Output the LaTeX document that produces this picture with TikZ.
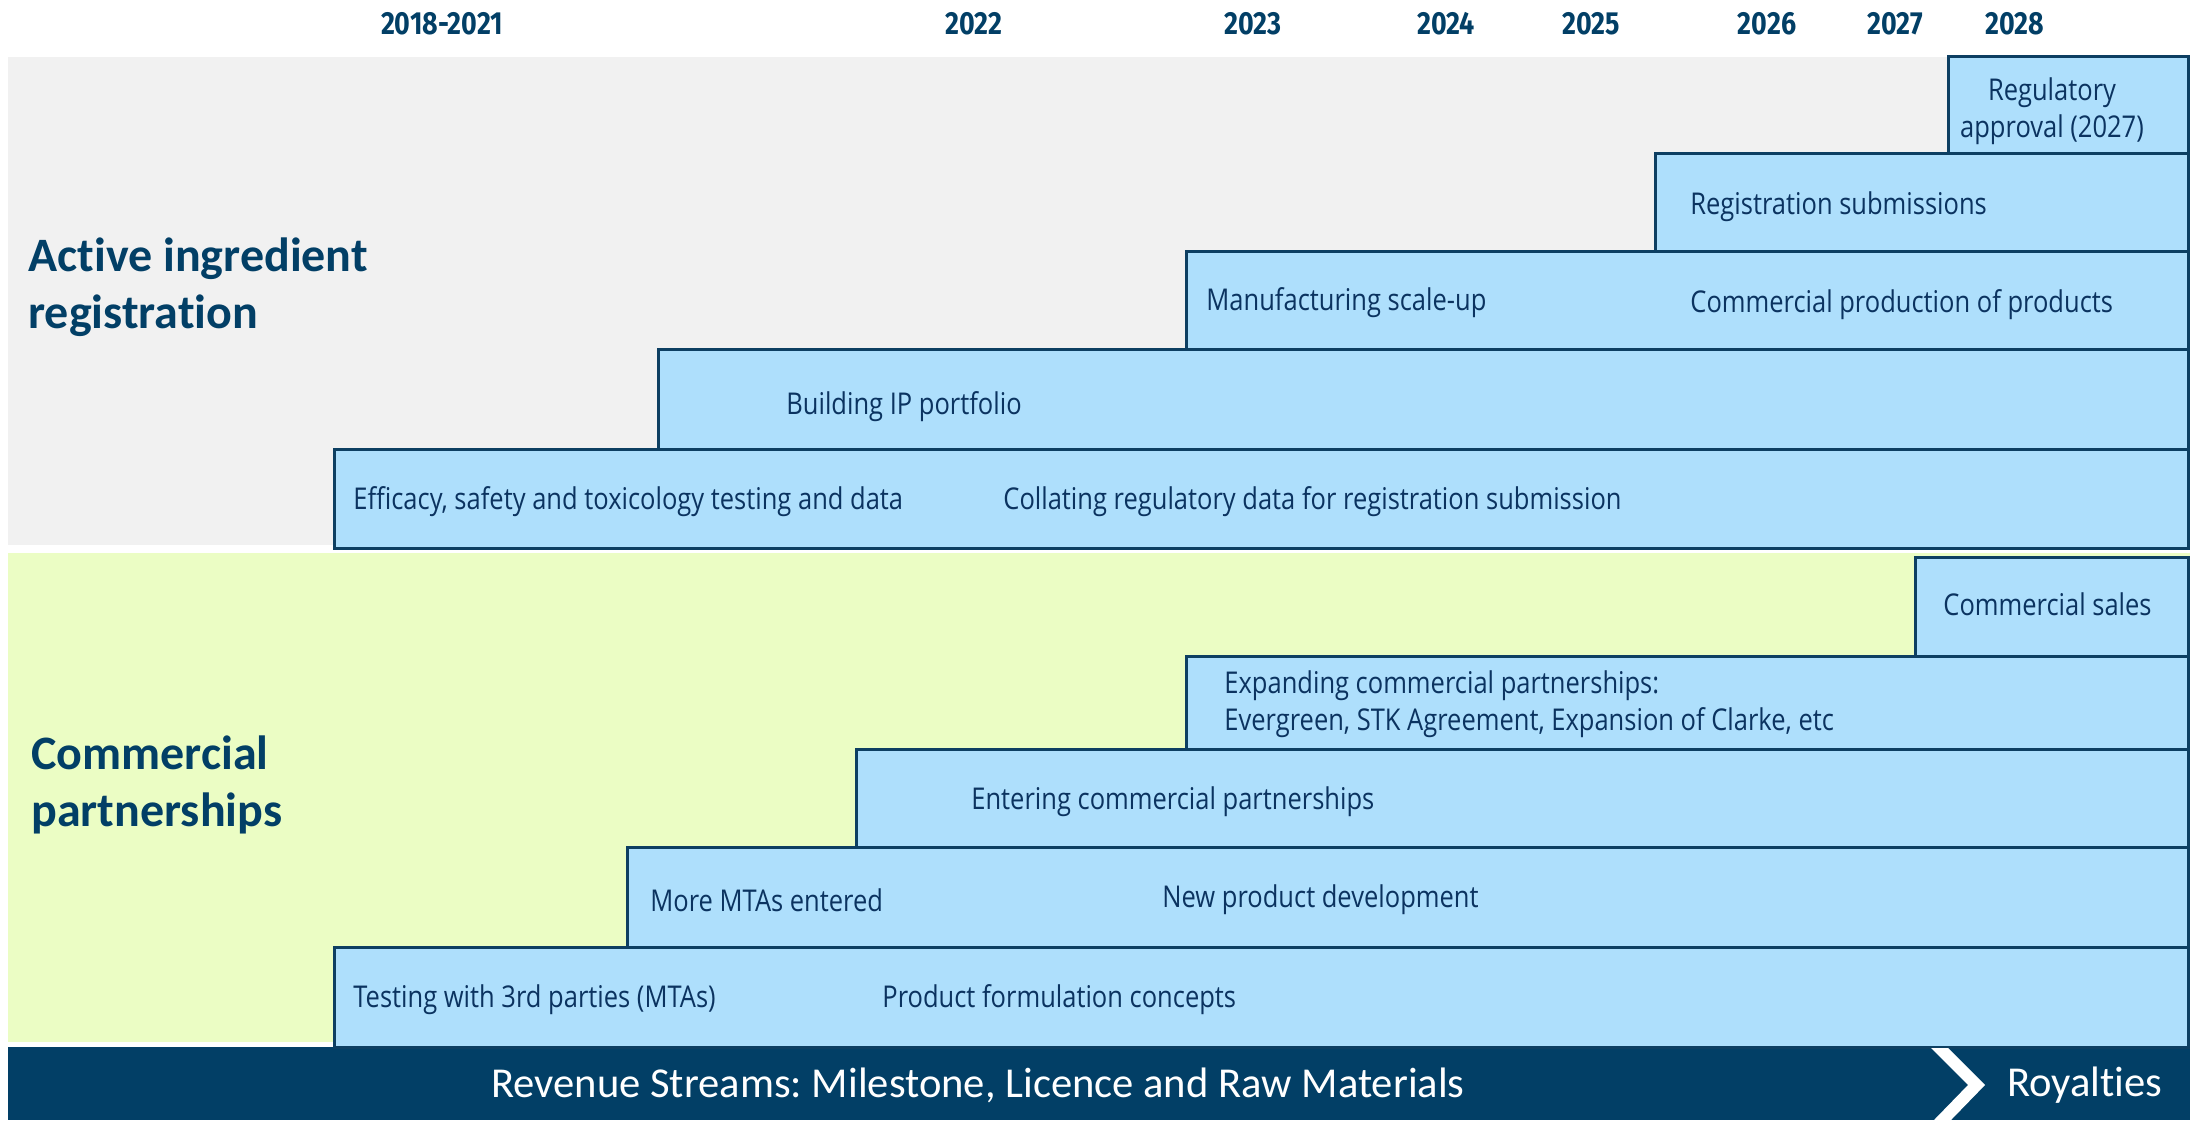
\documentclass[tikz,border=0pt]{standalone}
\usepackage{fontspec}
\usepackage{xcolor}
\usepackage{tikz}
\newfontfamily\titlefont[Ligatures=NoCommon]{Carlito}
\newfontfamily\boxfont[FakeStretch=0.85]{Open Sans}
\newfontfamily\yearfont[FakeStretch=0.84]{Fira Sans}
\definecolor{navy}{HTML}{023F66}
\definecolor{ink}{HTML}{0B3360}
\definecolor{edge}{HTML}{0D3F62}
\definecolor{phase}{HTML}{AEDFFC}
\definecolor{greybg}{HTML}{F1F1F1}
\definecolor{greenbg}{HTML}{EBFDC4}
\frenchspacing
\tikzset{
  phasebox/.style={draw=edge, fill=phase, line width=1.5pt},
  lab/.style={anchor=west, text=ink, inner sep=0pt, font=\boxfont\fontsize{15}{18.5}\selectfont},
  yr/.style={text=navy, inner sep=0pt, font=\yearfont\bfseries\fontsize{16}{18}\selectfont},
  head/.style={anchor=west, align=left, text=navy, inner sep=0pt, font=\titlefont\bfseries\fontsize{24}{28.5}\selectfont},
  foot/.style={text=white, inner sep=0pt, font=\titlefont\fontsize{21.3}{25}\selectfont},
}
\begin{document}
\begin{tikzpicture}[x=0.5pt,y=-0.5pt]
  \useasboundingbox (0,0) rectangle (2190,1120);
  % years
  \node[yr] (y1821) at (442,24) {2018-2021};
  \node[yr] (y22) at (974,24) {2022};
  \node[yr] (y23) at (1253,24) {2023};
  \node[yr] (y24) at (1446,24) {2024};
  \node[yr] (y25) at (1591,24) {2025};
  \node[yr] (y26) at (1767,24) {2026};
  \node[yr] (y27) at (1895,24) {2027};
  \node[yr] (y28) at (2015,24) {2028};
  % panels
  \fill[greybg] (8,57) rectangle (2190,545);
  \fill[greenbg] (8,553) rectangle (2190,1042);
  \fill[navy] (8,1047) rectangle (2190,1120);
  \node[head] (active) at (28,287) {Active ingredient\\registration};
  \node[head] (partner) at (31,785) {Commercial\\partnerships};
  % active ingredient steps
  \draw[phasebox] (334,449) rectangle (2188,548);
  \draw[phasebox] (658,349) rectangle (2188,449);
  \draw[phasebox] (1186,251) rectangle (2188,349);
  \draw[phasebox] (1655,153) rectangle (2188,251);
  \draw[phasebox] (1948,56) rectangle (2188,153);
  \node[lab, anchor=center, align=center] (approval) at (2052,111) {Regulatory\\approval (2027)};
  \node[lab] (submit) at (1690,207) {Registration submissions};
  \node[lab] (scaleup) at (1206,303) {Manufacturing scale-up};
  \node[lab] (production) at (1690,305) {Commercial production of products};
  \node[lab] (ip) at (786,407) {Building IP portfolio};
  \node[lab] (efficacy) at (353,502) {Efficacy, safety and toxicology testing and data};
  \node[lab] (collate) at (1003,502) {Collating regulatory data for registration submission};
  % commercial steps
  \draw[phasebox] (334,947) rectangle (2188,1047);
  \draw[phasebox] (627,847) rectangle (2188,947);
  \draw[phasebox] (856,749) rectangle (2188,847);
  \draw[phasebox] (1186,656) rectangle (2188,749);
  \draw[phasebox] (1915,557) rectangle (2188,656);
  \node[lab] (sales) at (1943,604) {Commercial sales};
  \node[lab, align=left] (expand) at (1224,704) {Expanding commercial partnerships:\\Evergreen, STK Agreement, Expansion of Clarke, etc};
  \node[lab] (enter) at (971,802) {Entering commercial partnerships};
  \node[lab] (mtas) at (650,900) {More MTAs entered};
  \node[lab] (newprod) at (1162,900) {New product development};
  \node[lab] (testing) at (353,1000) {Testing with 3rd parties (MTAs)};
  \node[lab] (formul) at (882,1000) {Product formulation concepts};
  % revenue bar
  \fill[white] (1931,1048) -- (1948,1048) -- (1985,1085) -- (1951,1120) -- (1934,1120) -- (1968,1085) -- cycle;
  \node[foot] (revenue) at (978,1085) {Revenue Streams: Milestone, Licence and Raw Materials};
  \node[foot] (royal) at (2085,1085) {Royalties};
\end{tikzpicture}
\end{document}
